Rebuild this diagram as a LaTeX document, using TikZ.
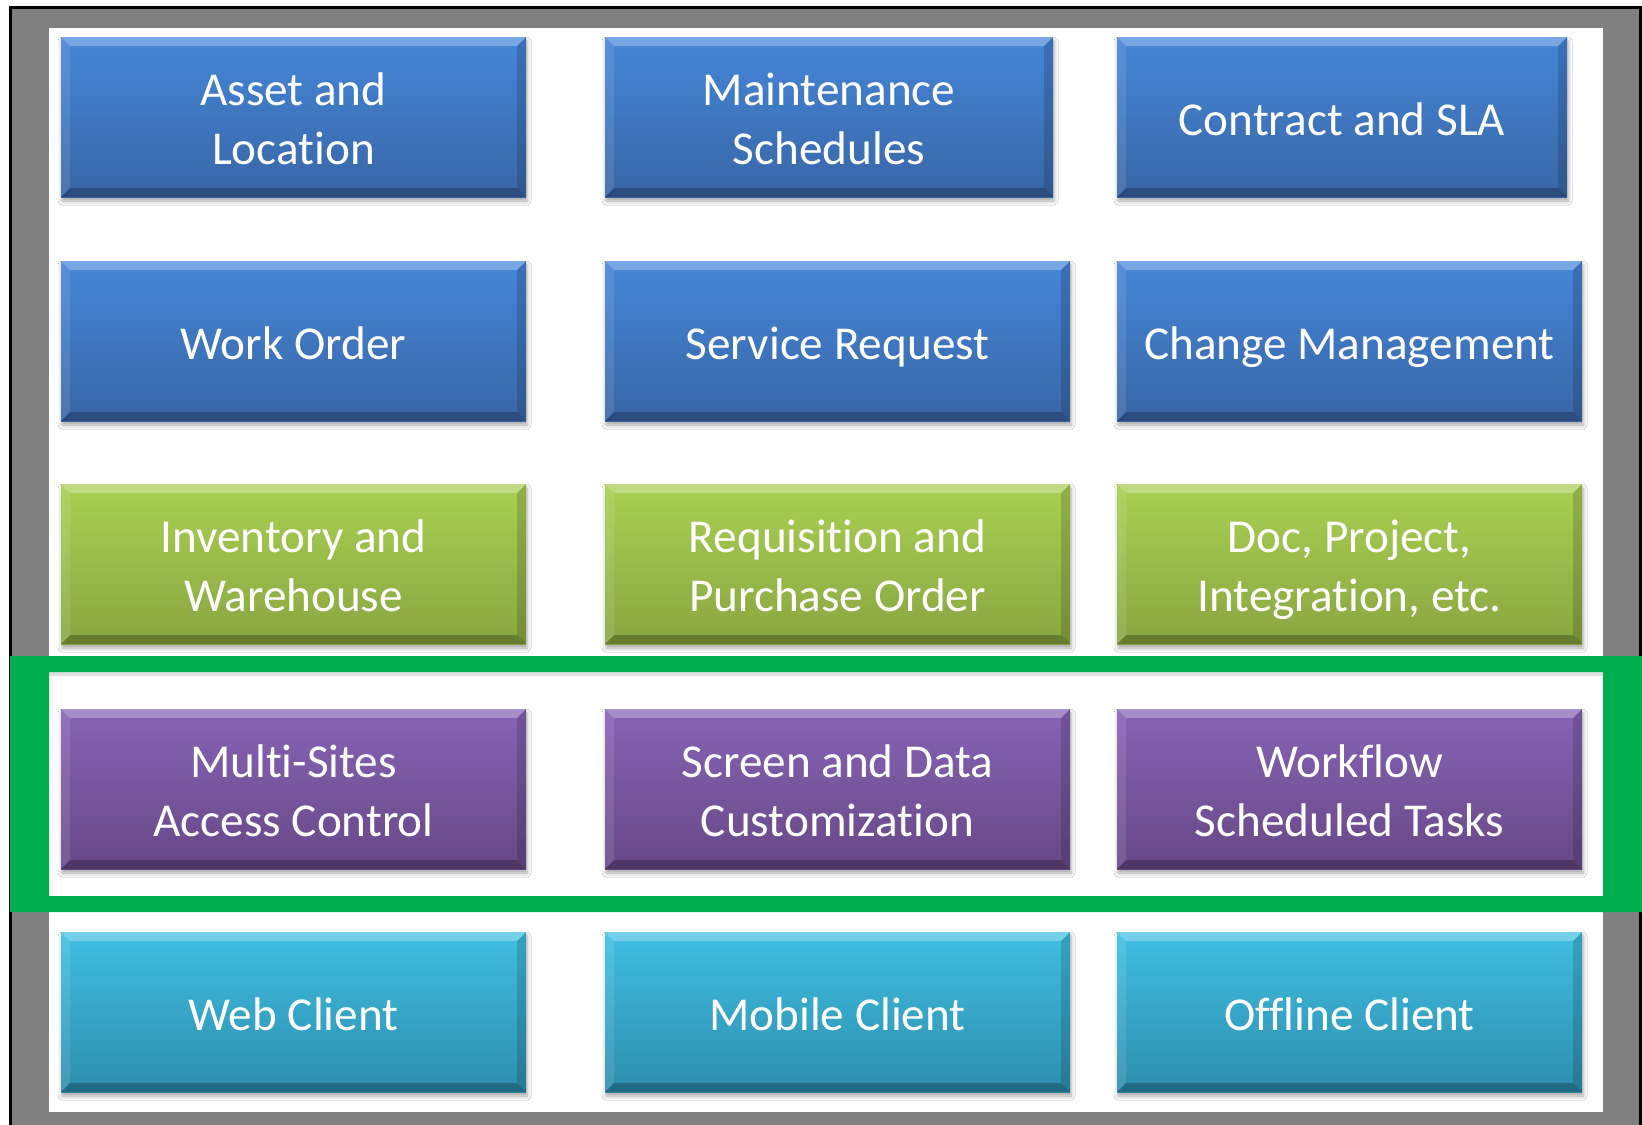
\documentclass[tikz,border=0pt]{standalone}
\usepackage{fontspec}
\newfontfamily\boxfont[Ligatures=NoCommon]{Carlito}
\usetikzlibrary{shadows.blur}
\definecolor{blueT}{HTML}{4586D8}
\definecolor{blueB}{HTML}{3866A6}
\definecolor{greenT}{HTML}{A9D052}
\definecolor{greenB}{HTML}{88A641}
\definecolor{purpT}{HTML}{8763B6}
\definecolor{purpB}{HTML}{674886}
\definecolor{cyanT}{HTML}{3FBFE2}
\definecolor{cyanB}{HTML}{2E8DAD}
\definecolor{frameGreen}{HTML}{00B050}
\definecolor{bgGray}{HTML}{808080}
\newcommand\tstrut{\rule[-5.65pt]{0pt}{29.3pt}}
\tikzset{
  tile/.style={rectangle, minimum height=80pt, inner sep=0pt, text=white,
    align=center, font=\boxfont\fontsize{23.6}{29.3}\selectfont,
    blur shadow={shadow xshift=0.5pt, shadow yshift=-2pt, shadow blur radius=2pt, shadow opacity=35},
    path picture={
      \fill[white, opacity=0.28] (path picture bounding box.north west) -- (path picture bounding box.north east)
        -- ([xshift=-4.5pt,yshift=-4.5pt]path picture bounding box.north east)
        -- ([xshift=4.5pt,yshift=-4.5pt]path picture bounding box.north west) -- cycle;
      \fill[white, opacity=0.10] (path picture bounding box.north west) -- ([xshift=4.5pt,yshift=-4.5pt]path picture bounding box.north west)
        -- ([xshift=4.5pt,yshift=4.5pt]path picture bounding box.south west) -- (path picture bounding box.south west) -- cycle;
      \fill[black, opacity=0.15] (path picture bounding box.north east) -- ([xshift=-4.5pt,yshift=-4.5pt]path picture bounding box.north east)
        -- ([xshift=-4.5pt,yshift=4.5pt]path picture bounding box.south east) -- (path picture bounding box.south east) -- cycle;
      \fill[black, opacity=0.25] (path picture bounding box.south west) -- ([xshift=4.5pt,yshift=4.5pt]path picture bounding box.south west)
        -- ([xshift=-4.5pt,yshift=4.5pt]path picture bounding box.south east) -- (path picture bounding box.south east) -- cycle;
    }},
  bluetile/.style={tile, top color=blueT, bottom color=blueB},
  greentile/.style={tile, top color=greenT, bottom color=greenB},
  purptile/.style={tile, top color=purpT, bottom color=purpB},
  cyantile/.style={tile, top color=cyanT, bottom color=cyanB},
  wA/.style={minimum width=232.5pt},
  wB/.style={minimum width=224pt},
  wC/.style={minimum width=225pt}
}
\begin{document}
\begin{tikzpicture}[x=0.5pt, y=-0.5pt]
\useasboundingbox (0,0) rectangle (1642,1124);
\fill[white] (0,0) rectangle (1642,1124);
% gray backdrop with black border
\begin{scope}
\clip (0,0) rectangle (1642,1124);
\draw[black, line width=1.5pt, fill=bgGray] (10,7) rectangle (1640,1140);
\end{scope}
\fill[white] (49,28) rectangle (1603,1112);
% row 1
\node[bluetile, wA] (asset) at (293.5,117) {\tstrut Asset and\\\tstrut Location};
\node[bluetile, wB] (maint) at (829,117) {\tstrut Maintenance\\\tstrut Schedules};
\node[bluetile, wC] (contract) at (1342,117) {\tstrut Contract and SLA};
% row 2
\node[bluetile, wA] (work) at (293.5,341) {\tstrut Work Order};
\node[bluetile, wA] (service) at (837.5,341) {\tstrut Service Request};
\node[bluetile, wA] (change) at (1349.5,341) {\tstrut Change Management};
% row 3
\node[greentile, wA] (inventory) at (293.5,564) {\tstrut Inventory and\\\tstrut Warehouse};
\node[greentile, wA] (requisition) at (837.5,564) {\tstrut Requisition and\\\tstrut Purchase Order};
\node[greentile, wA] (doc) at (1349.5,564) {\tstrut Doc, Project,\\\tstrut Integration, etc.};
% row 4
\node[purptile, wA] (multi) at (293.5,789) {\tstrut Multi-Sites\\\tstrut Access Control};
\node[purptile, wA] (screen) at (837.5,789) {\tstrut Screen and Data\\\tstrut Customization};
\node[purptile, wA] (workflow) at (1349.5,789) {\tstrut Workflow\\\tstrut Scheduled Tasks};
% row 5
\node[cyantile, wA] (web) at (293.5,1012) {\tstrut Web Client};
\node[cyantile, wA] (mobile) at (837.5,1012) {\tstrut Mobile Client};
\node[cyantile, wA] (offline) at (1349.5,1012) {\tstrut Offline Client};
% green highlight frame
\fill[black, opacity=0.12] (49,672) rectangle (1603,676);
\fill[frameGreen, even odd rule] (10,656) rectangle (1642,912) (49,672) rectangle (1603,896);
\end{tikzpicture}
\end{document}
